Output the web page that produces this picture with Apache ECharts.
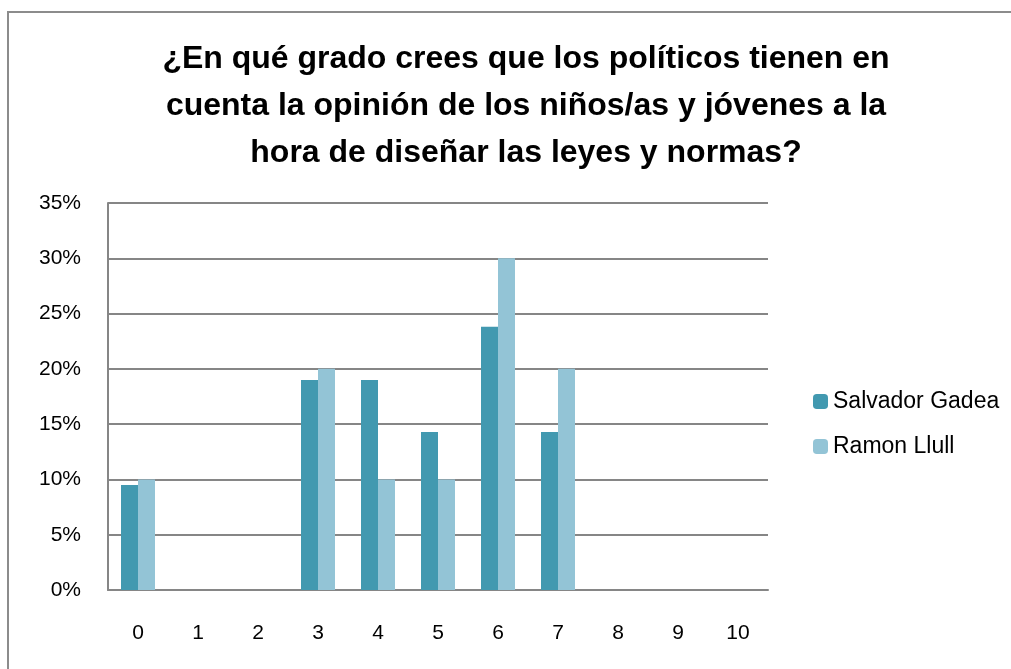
<!DOCTYPE html>
<html>
<head>
<meta charset="utf-8">
<script src="https://cdn.jsdelivr.net/npm/echarts@6/dist/echarts.min.js"></script>
<style>
  html, body { margin: 0; padding: 0; background: #fff; }
  #frame {
    position: absolute; left: 7px; top: 11px; width: 1100px; height: 700px;
    border: 2px solid #8c8c8c; box-sizing: border-box;
  }
  #chart { position: absolute; left: 0; top: 0; width: 1011px; height: 669px; }
</style>
</head>
<body>
<div id="frame"></div>
<div id="chart"></div>
<script>
// categorias (puntuacion 0-10)
const categories = ["0", "1", "2", "3", "4", "5", "6", "7", "8", "9", "10"];
// porcentajes por centro
const salvadorGadea = [9.5, 0, 0, 19.0, 19.0, 14.3, 23.8, 14.3, 0, 0, 0];
const ramonLlull = [10, 0, 0, 20, 10, 10, 30, 20, 0, 0, 0];
const seriesNames = ["Salvador Gadea", "Ramon Llull"];
const titleText =
  "¿En qué grado crees que los políticos tienen en\ncuenta la opinión de los niños/as y jóvenes a la\nhora de diseñar las leyes y normas?";

const fontFam = "'Liberation Sans Narrow', 'Arial Narrow', 'Liberation Sans', sans-serif";

let chart = echarts.init(document.getElementById("chart"));
chart.setOption({
  animation: false,
  title: {
    text: titleText,
    left: 521,
    top: 31,
    textAlign: "center",
    textStyle: {
      fontFamily: fontFam,
      fontSize: 32,
      fontWeight: "bold",
      color: "#000",
      lineHeight: 47,
    },
  },
  legend: {
    orient: "vertical",
    left: 808,
    top: 385,
    itemWidth: 15,
    itemHeight: 15,
    itemGap: 22,
    itemStyle: { borderWidth: 0 },
    textStyle: { fontFamily: fontFam, fontSize: 23, color: "#000" },
    data: seriesNames,
  },
  grid: {
    left: 108,
    right: 243,
    top: 203,
    bottom: 79,
    containLabel: false,
  },
  xAxis: {
    type: "category",
    data: categories,
    axisLine: { lineStyle: { color: "#868686", width: 2 } },
    axisTick: { show: false },
    axisLabel: {
      fontFamily: fontFam,
      fontSize: 21,
      color: "#000",
      margin: 33,
    },
  },
  yAxis: {
    type: "value",
    min: 0,
    max: 35,
    interval: 5,
    axisLine: { show: true, lineStyle: { color: "#868686", width: 2 } },
    axisTick: { show: false },
    axisLabel: {
      formatter: "{value}%",
      fontFamily: fontFam,
      fontSize: 21,
      color: "#000",
      margin: 27,
    },
    splitLine: { lineStyle: { color: "#868686", width: 2 } },
  },
  series: [
    {
      name: seriesNames[0],
      type: "bar",
      data: salvadorGadea,
      itemStyle: { color: "#4299B0" },
      barWidth: 17,
      barGap: "0%",
    },
    {
      name: seriesNames[1],
      type: "bar",
      data: ramonLlull,
      itemStyle: { color: "#93C4D6" },
      barWidth: 17,
      barGap: "0%",
    },
  ],
});
</script>
</body>
</html>
